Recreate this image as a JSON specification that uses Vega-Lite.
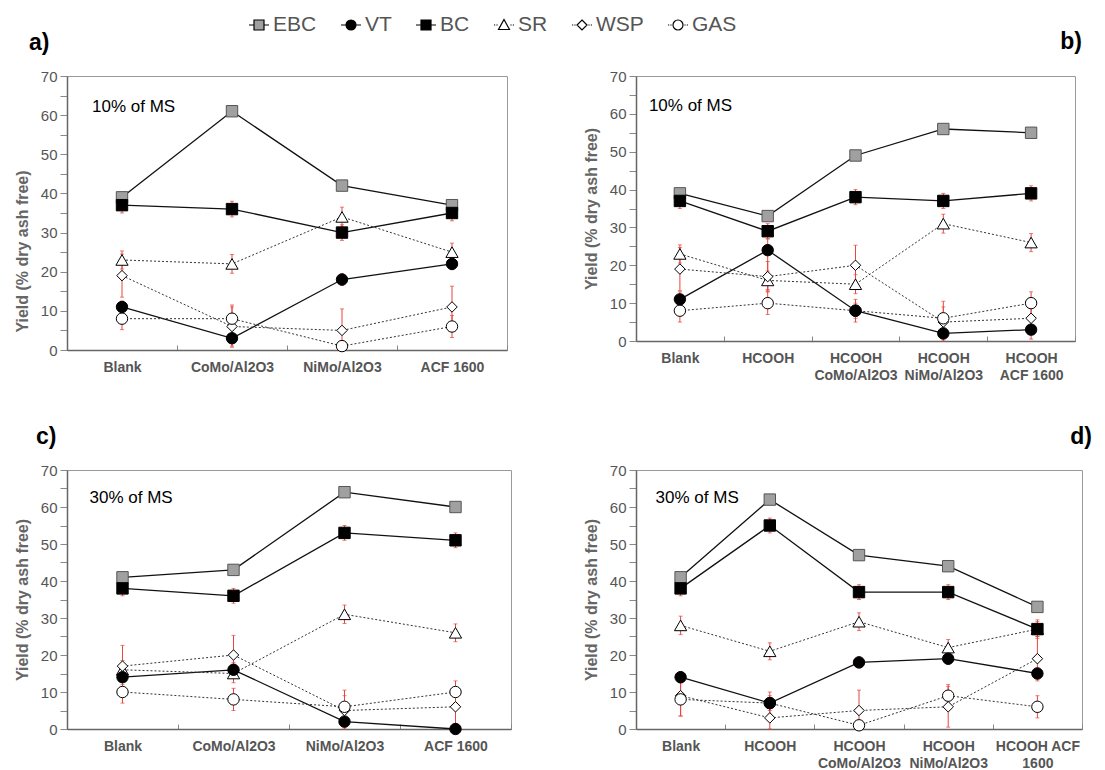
{
"$schema":"https://vega.github.io/schema/vega-lite/v6.json",
"padding":{"left":13,"top":14,"right":0,"bottom":0},
"autosize":{"type":"pad"},
"bounds":"flush",
"align":"each",
"columns":2,
"spacing":{"row":120,"column":125},
"resolve":{"scale":{"shape":"shared","fill":"shared"},"legend":{"shape":"shared","fill":"shared"}},
"data":{"values":[
{"p":"a","c":"Blank","ty":62,"t":"10% of MS"},
{"p":"b","c":"Blank","ty":62,"t":"10% of MS"},
{"p":"c","c":"Blank","ty":62.5,"t":"30% of MS"},
{"p":"d","c":"Blank","ty":62.5,"t":"30% of MS"},
{"p":"a","i":0,"c":"Blank","s":"EBC","y":39},
{"p":"a","i":1,"c":"CoMo/Al2O3","s":"EBC","y":61},
{"p":"a","i":2,"c":"NiMo/Al2O3","s":"EBC","y":42},
{"p":"a","i":3,"c":"ACF 1600","s":"EBC","y":37},
{"p":"a","i":0,"c":"Blank","s":"VT","y":11,"lo":9.5,"hi":12.5},
{"p":"a","i":1,"c":"CoMo/Al2O3","s":"VT","y":3,"lo":0.7,"hi":5.3},
{"p":"a","i":2,"c":"NiMo/Al2O3","s":"VT","y":18,"lo":16.5,"hi":19.5},
{"p":"a","i":3,"c":"ACF 1600","s":"VT","y":22,"lo":20.5,"hi":23.5},
{"p":"a","i":0,"c":"Blank","s":"BC","y":37,"lo":35,"hi":39},
{"p":"a","i":1,"c":"CoMo/Al2O3","s":"BC","y":36,"lo":34,"hi":38},
{"p":"a","i":2,"c":"NiMo/Al2O3","s":"BC","y":30,"lo":28,"hi":32},
{"p":"a","i":3,"c":"ACF 1600","s":"BC","y":35,"lo":33,"hi":37},
{"p":"a","i":0,"c":"Blank","s":"SR","y":23,"lo":20.7,"hi":25.3},
{"p":"a","i":1,"c":"CoMo/Al2O3","s":"SR","y":22,"lo":19.6,"hi":24.4},
{"p":"a","i":2,"c":"NiMo/Al2O3","s":"SR","y":34,"lo":31.5,"hi":36.5},
{"p":"a","i":3,"c":"ACF 1600","s":"SR","y":25,"lo":22.7,"hi":27.3},
{"p":"a","i":0,"c":"Blank","s":"WSP","y":19,"lo":13.5,"hi":24.5},
{"p":"a","i":1,"c":"CoMo/Al2O3","s":"WSP","y":6,"lo":1,"hi":11.5},
{"p":"a","i":2,"c":"NiMo/Al2O3","s":"WSP","y":5,"lo":0.2,"hi":10.5},
{"p":"a","i":3,"c":"ACF 1600","s":"WSP","y":11,"lo":5.7,"hi":16.3},
{"p":"a","i":0,"c":"Blank","s":"GAS","y":8,"lo":5.2,"hi":10.8},
{"p":"a","i":1,"c":"CoMo/Al2O3","s":"GAS","y":8,"lo":5,"hi":11},
{"p":"a","i":2,"c":"NiMo/Al2O3","s":"GAS","y":1,"lo":0,"hi":2},
{"p":"a","i":3,"c":"ACF 1600","s":"GAS","y":6,"lo":3.2,"hi":8.8},

{"p":"b","i":0,"c":"Blank","s":"EBC","y":39},
{"p":"b","i":1,"c":"HCOOH","s":"EBC","y":33},
{"p":"b","i":2,"c":"HCOOH|CoMo/Al2O3","s":"EBC","y":49},
{"p":"b","i":3,"c":"HCOOH|NiMo/Al2O3","s":"EBC","y":56},
{"p":"b","i":4,"c":"HCOOH|ACF 1600","s":"EBC","y":55},
{"p":"b","i":0,"c":"Blank","s":"VT","y":11,"lo":9,"hi":13},
{"p":"b","i":1,"c":"HCOOH","s":"VT","y":24,"lo":13.5,"hi":27},
{"p":"b","i":2,"c":"HCOOH|CoMo/Al2O3","s":"VT","y":8,"lo":6,"hi":10},
{"p":"b","i":3,"c":"HCOOH|NiMo/Al2O3","s":"VT","y":2,"lo":0.5,"hi":3.5},
{"p":"b","i":4,"c":"HCOOH|ACF 1600","s":"VT","y":3,"lo":0.5,"hi":5.5},
{"p":"b","i":0,"c":"Blank","s":"BC","y":37,"lo":35,"hi":39},
{"p":"b","i":1,"c":"HCOOH","s":"BC","y":29,"lo":27,"hi":31},
{"p":"b","i":2,"c":"HCOOH|CoMo/Al2O3","s":"BC","y":38,"lo":36,"hi":40},
{"p":"b","i":3,"c":"HCOOH|NiMo/Al2O3","s":"BC","y":37,"lo":35,"hi":39},
{"p":"b","i":4,"c":"HCOOH|ACF 1600","s":"BC","y":39,"lo":37,"hi":41},
{"p":"b","i":0,"c":"Blank","s":"SR","y":23,"lo":20.6,"hi":25.4},
{"p":"b","i":1,"c":"HCOOH","s":"SR","y":16,"lo":13.5,"hi":18.5},
{"p":"b","i":2,"c":"HCOOH|CoMo/Al2O3","s":"SR","y":15,"lo":12.5,"hi":17.5},
{"p":"b","i":3,"c":"HCOOH|NiMo/Al2O3","s":"SR","y":31,"lo":28.5,"hi":33.5},
{"p":"b","i":4,"c":"HCOOH|ACF 1600","s":"SR","y":26,"lo":23.6,"hi":28.4},
{"p":"b","i":0,"c":"Blank","s":"WSP","y":19,"lo":13.3,"hi":24.7},
{"p":"b","i":1,"c":"HCOOH","s":"WSP","y":17,"lo":13,"hi":21},
{"p":"b","i":2,"c":"HCOOH|CoMo/Al2O3","s":"WSP","y":20,"lo":14.7,"hi":25.3},
{"p":"b","i":3,"c":"HCOOH|NiMo/Al2O3","s":"WSP","y":5,"lo":0,"hi":10.5},
{"p":"b","i":4,"c":"HCOOH|ACF 1600","s":"WSP","y":6,"lo":3,"hi":9},
{"p":"b","i":0,"c":"Blank","s":"GAS","y":8,"lo":5,"hi":11},
{"p":"b","i":1,"c":"HCOOH","s":"GAS","y":10,"lo":7,"hi":13},
{"p":"b","i":2,"c":"HCOOH|CoMo/Al2O3","s":"GAS","y":8,"lo":5,"hi":11},
{"p":"b","i":3,"c":"HCOOH|NiMo/Al2O3","s":"GAS","y":6,"lo":3,"hi":9},
{"p":"b","i":4,"c":"HCOOH|ACF 1600","s":"GAS","y":10,"lo":7,"hi":13},

{"p":"c","i":0,"c":"Blank","s":"EBC","y":41},
{"p":"c","i":1,"c":"CoMo/Al2O3","s":"EBC","y":43},
{"p":"c","i":2,"c":"NiMo/Al2O3","s":"EBC","y":64},
{"p":"c","i":3,"c":"ACF 1600","s":"EBC","y":60},
{"p":"c","i":0,"c":"Blank","s":"VT","y":14,"lo":12,"hi":16},
{"p":"c","i":1,"c":"CoMo/Al2O3","s":"VT","y":16,"lo":14,"hi":18},
{"p":"c","i":2,"c":"NiMo/Al2O3","s":"VT","y":2,"lo":0.5,"hi":3.5},
{"p":"c","i":3,"c":"ACF 1600","s":"VT","y":0},
{"p":"c","i":0,"c":"Blank","s":"BC","y":38,"lo":36,"hi":40},
{"p":"c","i":1,"c":"CoMo/Al2O3","s":"BC","y":36,"lo":34,"hi":38},
{"p":"c","i":2,"c":"NiMo/Al2O3","s":"BC","y":53,"lo":51,"hi":55},
{"p":"c","i":3,"c":"ACF 1600","s":"BC","y":51,"lo":49,"hi":53},
{"p":"c","i":0,"c":"Blank","s":"SR","y":16,"lo":13.5,"hi":18.5},
{"p":"c","i":1,"c":"CoMo/Al2O3","s":"SR","y":15,"lo":12.5,"hi":17.5},
{"p":"c","i":2,"c":"NiMo/Al2O3","s":"SR","y":31,"lo":28.5,"hi":33.5},
{"p":"c","i":3,"c":"ACF 1600","s":"SR","y":26,"lo":23.6,"hi":28.4},
{"p":"c","i":0,"c":"Blank","s":"WSP","y":17,"lo":11.4,"hi":22.6},
{"p":"c","i":1,"c":"CoMo/Al2O3","s":"WSP","y":20,"lo":14.7,"hi":25.3},
{"p":"c","i":2,"c":"NiMo/Al2O3","s":"WSP","y":5,"lo":0,"hi":10.5},
{"p":"c","i":3,"c":"ACF 1600","s":"WSP","y":6,"lo":1,"hi":11},
{"p":"c","i":0,"c":"Blank","s":"GAS","y":10,"lo":7,"hi":13},
{"p":"c","i":1,"c":"CoMo/Al2O3","s":"GAS","y":8,"lo":5,"hi":11},
{"p":"c","i":2,"c":"NiMo/Al2O3","s":"GAS","y":6,"lo":3,"hi":9},
{"p":"c","i":3,"c":"ACF 1600","s":"GAS","y":10,"lo":7,"hi":13},

{"p":"d","i":0,"c":"Blank","s":"EBC","y":41},
{"p":"d","i":1,"c":"HCOOH","s":"EBC","y":62},
{"p":"d","i":2,"c":"HCOOH|CoMo/Al2O3","s":"EBC","y":47},
{"p":"d","i":3,"c":"HCOOH|NiMo/Al2O3","s":"EBC","y":44},
{"p":"d","i":4,"c":"HCOOH  ACF|1600","s":"EBC","y":33},
{"p":"d","i":0,"c":"Blank","s":"VT","y":14,"lo":12.5,"hi":15.5},
{"p":"d","i":1,"c":"HCOOH","s":"VT","y":7,"lo":5,"hi":9},
{"p":"d","i":2,"c":"HCOOH|CoMo/Al2O3","s":"VT","y":18,"lo":16.5,"hi":19.5},
{"p":"d","i":3,"c":"HCOOH|NiMo/Al2O3","s":"VT","y":19,"lo":17.5,"hi":20.5},
{"p":"d","i":4,"c":"HCOOH  ACF|1600","s":"VT","y":15,"lo":13.5,"hi":16.5},
{"p":"d","i":0,"c":"Blank","s":"BC","y":38,"lo":36,"hi":40},
{"p":"d","i":1,"c":"HCOOH","s":"BC","y":55,"lo":53,"hi":57},
{"p":"d","i":2,"c":"HCOOH|CoMo/Al2O3","s":"BC","y":37,"lo":35,"hi":39},
{"p":"d","i":3,"c":"HCOOH|NiMo/Al2O3","s":"BC","y":37,"lo":35,"hi":39},
{"p":"d","i":4,"c":"HCOOH  ACF|1600","s":"BC","y":27,"lo":25,"hi":29},
{"p":"d","i":0,"c":"Blank","s":"SR","y":28,"lo":25.5,"hi":30.5},
{"p":"d","i":1,"c":"HCOOH","s":"SR","y":21,"lo":18.7,"hi":23.3},
{"p":"d","i":2,"c":"HCOOH|CoMo/Al2O3","s":"SR","y":29,"lo":26.6,"hi":31.4},
{"p":"d","i":3,"c":"HCOOH|NiMo/Al2O3","s":"SR","y":22,"lo":19.8,"hi":24.2},
{"p":"d","i":4,"c":"HCOOH  ACF|1600","s":"SR","y":27,"lo":24.5,"hi":29.5},
{"p":"d","i":0,"c":"Blank","s":"WSP","y":9,"lo":3.5,"hi":14},
{"p":"d","i":1,"c":"HCOOH","s":"WSP","y":3,"lo":0,"hi":6},
{"p":"d","i":2,"c":"HCOOH|CoMo/Al2O3","s":"WSP","y":5,"lo":0,"hi":10.5},
{"p":"d","i":3,"c":"HCOOH|NiMo/Al2O3","s":"WSP","y":6,"lo":0.5,"hi":11.5},
{"p":"d","i":4,"c":"HCOOH  ACF|1600","s":"WSP","y":19,"lo":13,"hi":25},
{"p":"d","i":0,"c":"Blank","s":"GAS","y":8,"lo":3.5,"hi":12.5},
{"p":"d","i":1,"c":"HCOOH","s":"GAS","y":7,"lo":4,"hi":10},
{"p":"d","i":2,"c":"HCOOH|CoMo/Al2O3","s":"GAS","y":1,"lo":0,"hi":2},
{"p":"d","i":3,"c":"HCOOH|NiMo/Al2O3","s":"GAS","y":9,"lo":6,"hi":12},
{"p":"d","i":4,"c":"HCOOH  ACF|1600","s":"GAS","y":6,"lo":3,"hi":9}
]},
"concat":[
{
"width":440,"height":274,
"title":{"text":"a)","anchor":"start","frame":"group","dx":-38,"offset":14},
"transform":[{"filter":"datum.p === 'a'"}],
"encoding":{
"x":{"field":"c","type":"nominal","scale":{"type":"band","domain":["Blank","CoMo/Al2O3","NiMo/Al2O3","ACF 1600"],"paddingInner":0,"paddingOuter":0},"axis":{"title":null,"labelExpr":"split(datum.label, '|')"}},
"y":{"field":"y","type":"quantitative","scale":{"domain":[0,70],"nice":false},"axis":{"title":"Yield (% dry ash free)","titleY":175,"values":[0,5,10,15,20,25,30,35,40,45,50,55,60,65,70],"labelExpr":"datum.value % 10 === 0 ? datum.label : ''"}}
},
"layer":[
{"transform":[{"filter":"isValid(datum.hi)"}],"mark":{"type":"rule","color":"#e8453c","strokeWidth":1},"encoding":{"y":{"field":"lo","type":"quantitative"},"y2":{"field":"hi"}}},
{"transform":[{"filter":"isValid(datum.hi)"}],"mark":{"type":"tick","color":"#e8453c","size":4,"thickness":1},"encoding":{"y":{"field":"hi","type":"quantitative"}}},
{"transform":[{"filter":"isValid(datum.lo)"}],"mark":{"type":"tick","color":"#e8453c","size":4,"thickness":1},"encoding":{"y":{"field":"lo","type":"quantitative"}}},
{"transform":[{"filter":"indexof(['EBC','VT','BC'], datum.s) >= 0"}],"mark":{"type":"line","color":"#111","strokeWidth":1.3},"encoding":{"detail":{"field":"s"},"order":{"field":"i"}}},
{"transform":[{"filter":"indexof(['SR','WSP','GAS'], datum.s) >= 0"}],"mark":{"type":"line","color":"#333","strokeWidth":1,"strokeDash":[2,2]},"encoding":{"detail":{"field":"s"},"order":{"field":"i"}}},
{"transform":[{"filter":"datum.s === 'SR'"}],"mark":{"type":"point","shape":"triangle-up","filled":true,"fill":"white","stroke":"black","strokeWidth":1,"size":150,"opacity":1}},
{"transform":[{"filter":"datum.s === 'WSP'"}],"mark":{"type":"point","shape":"diamond","filled":true,"fill":"white","stroke":"black","strokeWidth":1,"size":110,"opacity":1}},
{"transform":[{"filter":"datum.s === 'GAS'"}],"mark":{"type":"point","shape":"circle","filled":true,"fill":"white","stroke":"black","strokeWidth":1,"size":130,"opacity":1}},
{"transform":[{"filter":"datum.s === 'VT'"}],"mark":{"type":"point","shape":"circle","filled":true,"fill":"black","stroke":"black","strokeWidth":1,"size":130,"opacity":1}},
{"transform":[{"filter":"datum.s === 'EBC'"}],"mark":{"type":"point","shape":"square","filled":true,"fill":"#a0a0a0","stroke":"#555","strokeWidth":1,"size":130,"opacity":1}},
{"transform":[{"filter":"datum.s === 'BC'"}],"mark":{"type":"point","shape":"square","filled":true,"fill":"black","stroke":"black","strokeWidth":1,"size":130,"opacity":1}},
{"transform":[{"filter":"isValid(datum.ty)"}],"mark":{"type":"text","align":"left","baseline":"middle","fontSize":17,"dx":-30,"fill":"black"},"encoding":{"y":{"field":"ty","type":"quantitative"},"text":{"field":"t","type":"nominal"}}},
{"transform":[{"filter":"false"}],"mark":{"type":"point","filled":true,"stroke":"black"},"encoding":{
"shape":{"field":"s","type":"nominal","scale":{"domain":["EBC","VT","BC","SR","WSP","GAS"],"range":["M-1,0H-0.5M0.5,0H1M-0.5,-0.5H0.5V0.5H-0.5Z","M-1,0H-0.5M0.5,0H1M-0.5,0A0.5,0.5 0 1,0 0.5,0A0.5,0.5 0 1,0 -0.5,0Z","M-1,0H-0.5M0.5,0H1M-0.5,-0.5H0.5V0.5H-0.5Z","M-1,0H-0.88M-0.76,0H-0.64M0.64,0H0.76M0.88,0H1M0,-0.55L0.55,0.45L-0.55,0.45Z","M-1,0H-0.88M-0.76,0H-0.64M0.64,0H0.76M0.88,0H1M0,-0.5L0.5,0L0,0.5L-0.5,0Z","M-1,0H-0.88M-0.76,0H-0.64M0.64,0H0.76M0.88,0H1M-0.5,0A0.5,0.5 0 1,0 0.5,0A0.5,0.5 0 1,0 -0.5,0Z"]},"legend":{"orient":"none","legendX":181,"legendY":-62,"direction":"horizontal","title":null}},
"fill":{"field":"s","type":"nominal","scale":{"domain":["EBC","VT","BC","SR","WSP","GAS"],"range":["#a0a0a0","#000000","#000000","#ffffff","#ffffff","#ffffff"]},"legend":{"orient":"none","legendX":181,"legendY":-62,"direction":"horizontal","title":null}}
}}
]
},
{
"width":439,"height":265,
"title":{"text":"b)","anchor":"end","frame":"group","dx":7,"offset":15},
"transform":[{"filter":"datum.p === 'b'"}],
"encoding":{
"x":{"field":"c","type":"nominal","scale":{"type":"band","domain":["Blank","HCOOH","HCOOH|CoMo/Al2O3","HCOOH|NiMo/Al2O3","HCOOH|ACF 1600"],"paddingInner":0,"paddingOuter":0},"axis":{"title":null,"labelExpr":"split(datum.label, '|')"}},
"y":{"field":"y","type":"quantitative","scale":{"domain":[0,70],"nice":false},"axis":{"title":"Yield (% dry ash free)","values":[0,5,10,15,20,25,30,35,40,45,50,55,60,65,70],"labelExpr":"datum.value % 10 === 0 ? datum.label : ''"}}
},
"layer":[
{"transform":[{"filter":"isValid(datum.hi)"}],"mark":{"type":"rule","color":"#e8453c","strokeWidth":1},"encoding":{"y":{"field":"lo","type":"quantitative"},"y2":{"field":"hi"}}},
{"transform":[{"filter":"isValid(datum.hi)"}],"mark":{"type":"tick","color":"#e8453c","size":4,"thickness":1},"encoding":{"y":{"field":"hi","type":"quantitative"}}},
{"transform":[{"filter":"isValid(datum.lo)"}],"mark":{"type":"tick","color":"#e8453c","size":4,"thickness":1},"encoding":{"y":{"field":"lo","type":"quantitative"}}},
{"transform":[{"filter":"indexof(['EBC','VT','BC'], datum.s) >= 0"}],"mark":{"type":"line","color":"#111","strokeWidth":1.3},"encoding":{"detail":{"field":"s"},"order":{"field":"i"}}},
{"transform":[{"filter":"indexof(['SR','WSP','GAS'], datum.s) >= 0"}],"mark":{"type":"line","color":"#333","strokeWidth":1,"strokeDash":[2,2]},"encoding":{"detail":{"field":"s"},"order":{"field":"i"}}},
{"transform":[{"filter":"datum.s === 'SR'"}],"mark":{"type":"point","shape":"triangle-up","filled":true,"fill":"white","stroke":"black","strokeWidth":1,"size":150,"opacity":1}},
{"transform":[{"filter":"datum.s === 'WSP'"}],"mark":{"type":"point","shape":"diamond","filled":true,"fill":"white","stroke":"black","strokeWidth":1,"size":110,"opacity":1}},
{"transform":[{"filter":"datum.s === 'GAS'"}],"mark":{"type":"point","shape":"circle","filled":true,"fill":"white","stroke":"black","strokeWidth":1,"size":130,"opacity":1}},
{"transform":[{"filter":"datum.s === 'VT'"}],"mark":{"type":"point","shape":"circle","filled":true,"fill":"black","stroke":"black","strokeWidth":1,"size":130,"opacity":1}},
{"transform":[{"filter":"datum.s === 'EBC'"}],"mark":{"type":"point","shape":"square","filled":true,"fill":"#a0a0a0","stroke":"#555","strokeWidth":1,"size":130,"opacity":1}},
{"transform":[{"filter":"datum.s === 'BC'"}],"mark":{"type":"point","shape":"square","filled":true,"fill":"black","stroke":"black","strokeWidth":1,"size":130,"opacity":1}},
{"transform":[{"filter":"isValid(datum.ty)"}],"mark":{"type":"text","align":"left","baseline":"middle","fontSize":17,"dx":-31,"fill":"black"},"encoding":{"y":{"field":"ty","type":"quantitative"},"text":{"field":"t","type":"nominal"}}}
]
},
{
"width":444,"height":259,
"title":{"text":"c)","anchor":"start","frame":"group","dx":-31,"offset":14},
"transform":[{"filter":"datum.p === 'c'"}],
"encoding":{
"x":{"field":"c","type":"nominal","scale":{"type":"band","domain":["Blank","CoMo/Al2O3","NiMo/Al2O3","ACF 1600"],"paddingInner":0,"paddingOuter":0},"axis":{"title":null,"labelExpr":"split(datum.label, '|')"}},
"y":{"field":"y","type":"quantitative","scale":{"domain":[0,70],"nice":false},"axis":{"title":"Yield (% dry ash free)","values":[0,5,10,15,20,25,30,35,40,45,50,55,60,65,70],"labelExpr":"datum.value % 10 === 0 ? datum.label : ''"}}
},
"layer":[
{"transform":[{"filter":"isValid(datum.hi)"}],"mark":{"type":"rule","color":"#e8453c","strokeWidth":1},"encoding":{"y":{"field":"lo","type":"quantitative"},"y2":{"field":"hi"}}},
{"transform":[{"filter":"isValid(datum.hi)"}],"mark":{"type":"tick","color":"#e8453c","size":4,"thickness":1},"encoding":{"y":{"field":"hi","type":"quantitative"}}},
{"transform":[{"filter":"isValid(datum.lo)"}],"mark":{"type":"tick","color":"#e8453c","size":4,"thickness":1},"encoding":{"y":{"field":"lo","type":"quantitative"}}},
{"transform":[{"filter":"indexof(['EBC','VT','BC'], datum.s) >= 0"}],"mark":{"type":"line","color":"#111","strokeWidth":1.3},"encoding":{"detail":{"field":"s"},"order":{"field":"i"}}},
{"transform":[{"filter":"indexof(['SR','WSP','GAS'], datum.s) >= 0"}],"mark":{"type":"line","color":"#333","strokeWidth":1,"strokeDash":[2,2]},"encoding":{"detail":{"field":"s"},"order":{"field":"i"}}},
{"transform":[{"filter":"datum.s === 'SR'"}],"mark":{"type":"point","shape":"triangle-up","filled":true,"fill":"white","stroke":"black","strokeWidth":1,"size":150,"opacity":1}},
{"transform":[{"filter":"datum.s === 'WSP'"}],"mark":{"type":"point","shape":"diamond","filled":true,"fill":"white","stroke":"black","strokeWidth":1,"size":110,"opacity":1}},
{"transform":[{"filter":"datum.s === 'GAS'"}],"mark":{"type":"point","shape":"circle","filled":true,"fill":"white","stroke":"black","strokeWidth":1,"size":130,"opacity":1}},
{"transform":[{"filter":"datum.s === 'VT'"}],"mark":{"type":"point","shape":"circle","filled":true,"fill":"black","stroke":"black","strokeWidth":1,"size":130,"opacity":1}},
{"transform":[{"filter":"datum.s === 'EBC'"}],"mark":{"type":"point","shape":"square","filled":true,"fill":"#a0a0a0","stroke":"#555","strokeWidth":1,"size":130,"opacity":1}},
{"transform":[{"filter":"datum.s === 'BC'"}],"mark":{"type":"point","shape":"square","filled":true,"fill":"black","stroke":"black","strokeWidth":1,"size":130,"opacity":1}},
{"transform":[{"filter":"isValid(datum.ty)"}],"mark":{"type":"text","align":"left","baseline":"middle","fontSize":17,"dx":-33,"fill":"black"},"encoding":{"y":{"field":"ty","type":"quantitative"},"text":{"field":"t","type":"nominal"}}}
]
},
{
"width":446,"height":259,
"title":{"text":"d)","anchor":"end","frame":"group","dx":10,"offset":14},
"transform":[{"filter":"datum.p === 'd'"}],
"encoding":{
"x":{"field":"c","type":"nominal","scale":{"type":"band","domain":["Blank","HCOOH","HCOOH|CoMo/Al2O3","HCOOH|NiMo/Al2O3","HCOOH  ACF|1600"],"paddingInner":0,"paddingOuter":0},"axis":{"title":null,"labelExpr":"split(datum.label, '|')"}},
"y":{"field":"y","type":"quantitative","scale":{"domain":[0,70],"nice":false},"axis":{"title":"Yield (% dry ash free)","values":[0,5,10,15,20,25,30,35,40,45,50,55,60,65,70],"labelExpr":"datum.value % 10 === 0 ? datum.label : ''"}}
},
"layer":[
{"transform":[{"filter":"isValid(datum.hi)"}],"mark":{"type":"rule","color":"#e8453c","strokeWidth":1},"encoding":{"y":{"field":"lo","type":"quantitative"},"y2":{"field":"hi"}}},
{"transform":[{"filter":"isValid(datum.hi)"}],"mark":{"type":"tick","color":"#e8453c","size":4,"thickness":1},"encoding":{"y":{"field":"hi","type":"quantitative"}}},
{"transform":[{"filter":"isValid(datum.lo)"}],"mark":{"type":"tick","color":"#e8453c","size":4,"thickness":1},"encoding":{"y":{"field":"lo","type":"quantitative"}}},
{"transform":[{"filter":"indexof(['EBC','VT','BC'], datum.s) >= 0"}],"mark":{"type":"line","color":"#111","strokeWidth":1.3},"encoding":{"detail":{"field":"s"},"order":{"field":"i"}}},
{"transform":[{"filter":"indexof(['SR','WSP','GAS'], datum.s) >= 0"}],"mark":{"type":"line","color":"#333","strokeWidth":1,"strokeDash":[2,2]},"encoding":{"detail":{"field":"s"},"order":{"field":"i"}}},
{"transform":[{"filter":"datum.s === 'SR'"}],"mark":{"type":"point","shape":"triangle-up","filled":true,"fill":"white","stroke":"black","strokeWidth":1,"size":150,"opacity":1}},
{"transform":[{"filter":"datum.s === 'WSP'"}],"mark":{"type":"point","shape":"diamond","filled":true,"fill":"white","stroke":"black","strokeWidth":1,"size":110,"opacity":1}},
{"transform":[{"filter":"datum.s === 'GAS'"}],"mark":{"type":"point","shape":"circle","filled":true,"fill":"white","stroke":"black","strokeWidth":1,"size":130,"opacity":1}},
{"transform":[{"filter":"datum.s === 'VT'"}],"mark":{"type":"point","shape":"circle","filled":true,"fill":"black","stroke":"black","strokeWidth":1,"size":130,"opacity":1}},
{"transform":[{"filter":"datum.s === 'EBC'"}],"mark":{"type":"point","shape":"square","filled":true,"fill":"#a0a0a0","stroke":"#555","strokeWidth":1,"size":130,"opacity":1}},
{"transform":[{"filter":"datum.s === 'BC'"}],"mark":{"type":"point","shape":"square","filled":true,"fill":"black","stroke":"black","strokeWidth":1,"size":130,"opacity":1}},
{"transform":[{"filter":"isValid(datum.ty)"}],"mark":{"type":"text","align":"left","baseline":"middle","fontSize":17,"dx":-25,"fill":"black"},"encoding":{"y":{"field":"ty","type":"quantitative"},"text":{"field":"t","type":"nominal"}}}
]
}
],
"config":{
"font":"Liberation Sans",
"view":{"stroke":"#9a9a9a","strokeWidth":1},
"title":{"fontSize":23,"fontWeight":"bold","color":"black","font":"Liberation Sans"},
"legend":{"symbolSize":400,"symbolStrokeWidth":1.2,"symbolStrokeColor":"black","symbolFillColor":"#ffffff","symbolOpacity":1,"labelFontSize":21,"labelColor":"#555","labelFont":"Liberation Sans","labelOffset":3,"columnPadding":21,"labelLimit":0},
"axis":{"grid":false,"domainColor":"#666","domainWidth":1.5,"tickColor":"#888","tickWidth":1,"labelColor":"#555","labelFont":"Liberation Sans","titleFont":"Liberation Sans"},
"axisX":{"labelFontSize":14,"labelFontWeight":"bold","labelAngle":0,"labelPadding":15,"tickBand":"extent","tickSize":-5,"labelLineHeight":17},
"axisY":{"labelFontSize":15,"tickSize":7,"labelPadding":3,"titleFontSize":16,"titleFontWeight":"bold","titleColor":"#666","titlePadding":10}
}
}
